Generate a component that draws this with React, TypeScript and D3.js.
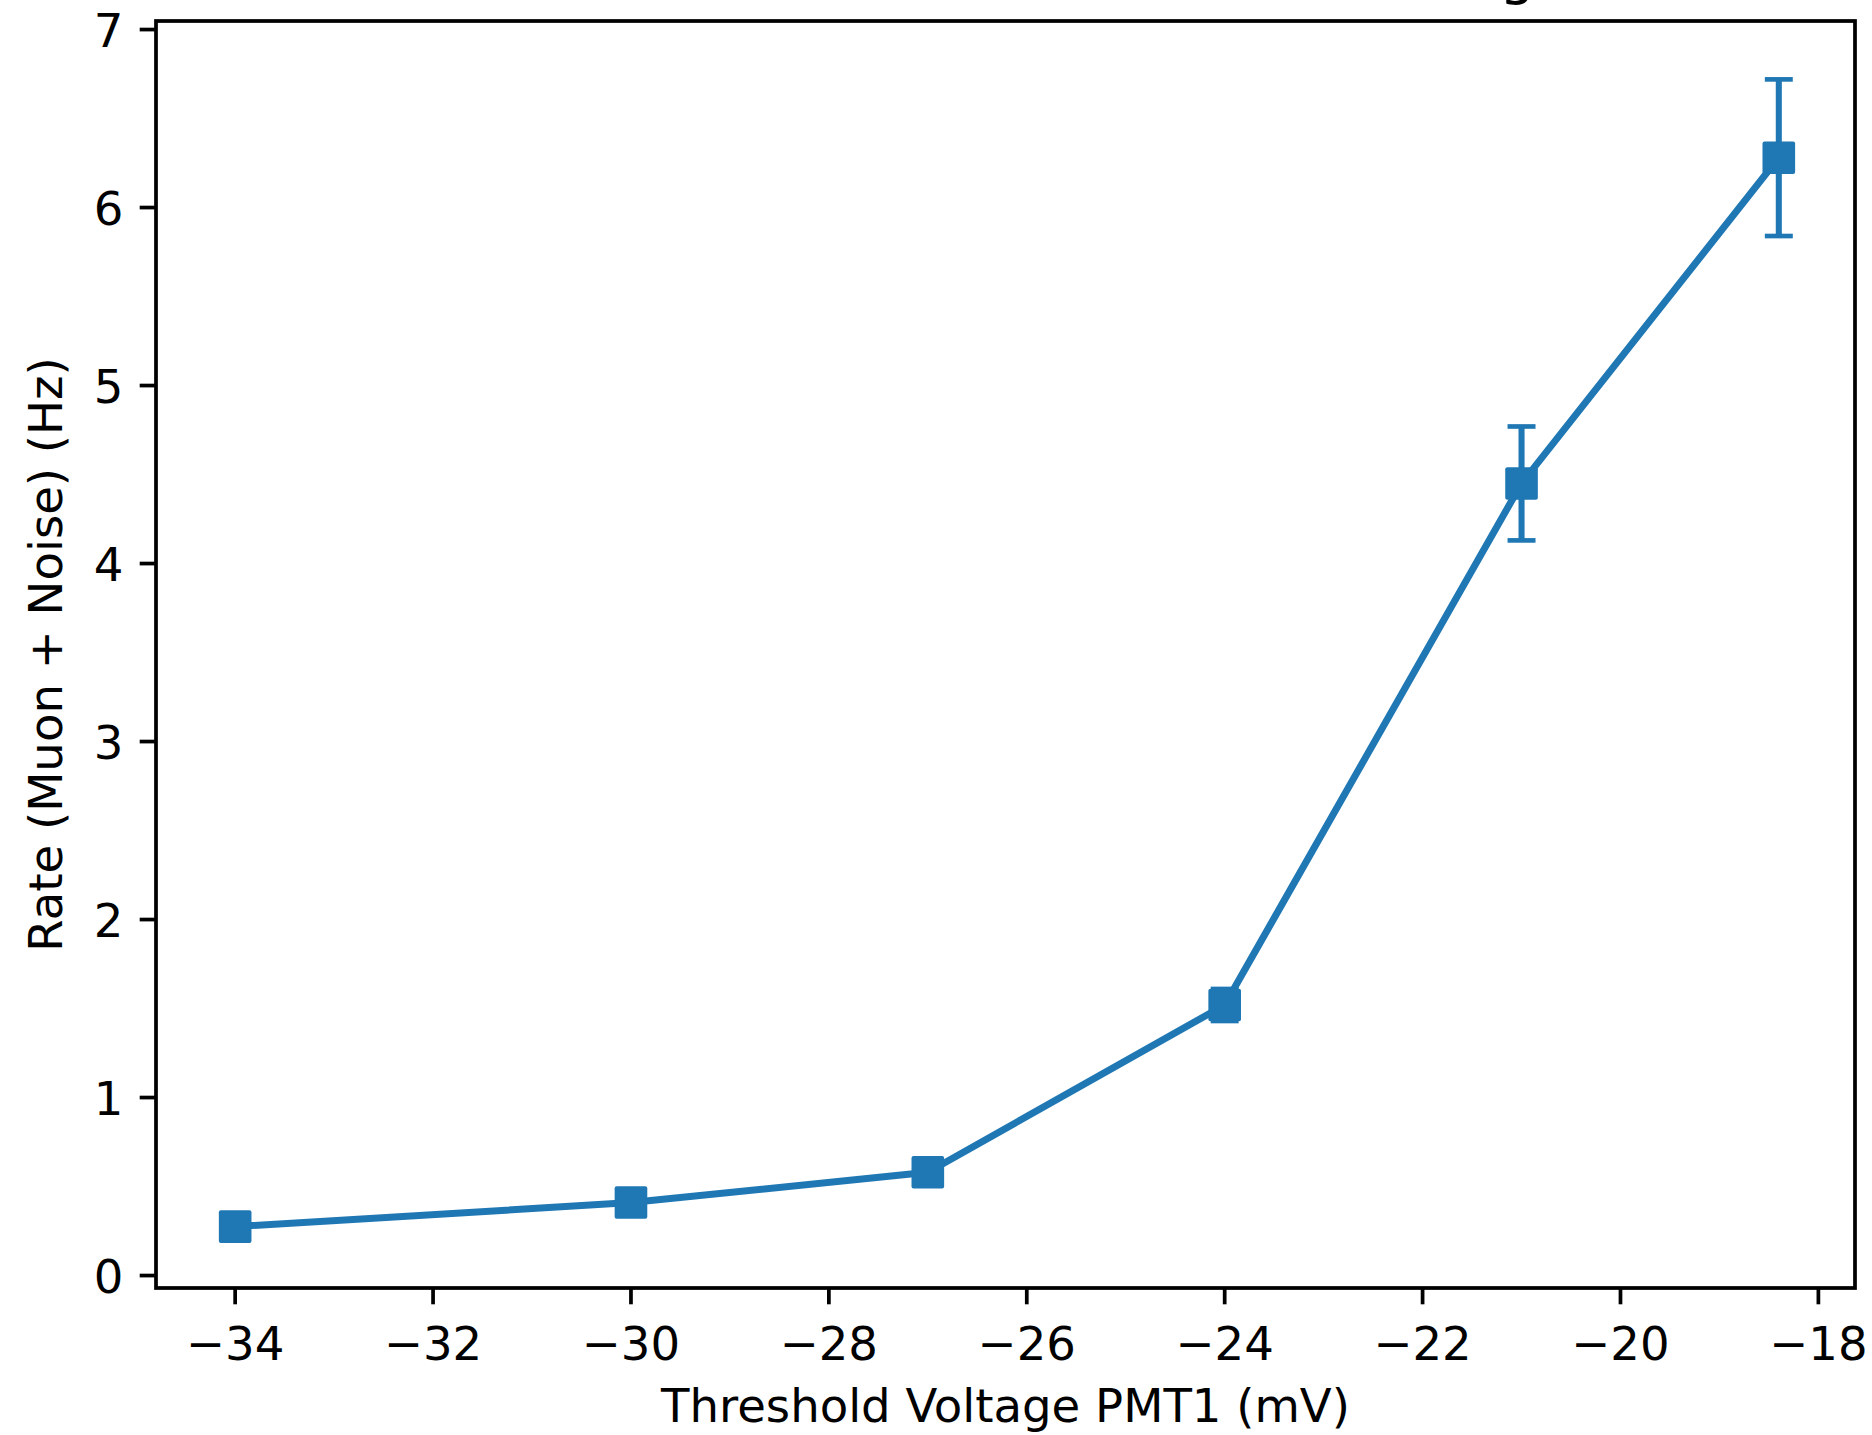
import React from "react";
import * as d3 from "d3";

// Threshold scan of PMT1: measured coincidence rate with statistical errors
const voltage = [-34, -30, -27, -24, -21, -18.4];
const rate = [0.275, 0.41, 0.58, 1.52, 4.45, 6.28];
const rateErr = [0.02, 0.03, 0.04, 0.09, 0.32, 0.44];

const xTicks = [-34, -32, -30, -28, -26, -24, -22, -20, -18];
const yTicks = [0, 1, 2, 3, 4, 5, 6, 7];
const xDomain = [-34.8, -17.63];
const yDomain = [-0.07, 7.048];

const titleText = "Coincidence Rate vs Threshold Voltage";
const xLabel = "Threshold Voltage PMT1 (mV)";
const yLabel = "Rate (Muon + Noise) (Hz)";

const W = 1872;
const H = 1435;
const PT = 4.66; // pixels per point
const BLUE = "#1f77b4";
const FONT = "DejaVu Sans, Liberation Sans, sans-serif";

export default function App() {
  const left = 156;
  const right = 1855;
  const top = 21;
  const bottom = 1288;

  const x = d3.scaleLinear().domain(xDomain).range([left, right]);
  const y = d3.scaleLinear().domain(yDomain).range([bottom, top]);

  const pts = voltage.map((v, i) => ({ v, r: rate[i], e: rateErr[i] }));
  const line = d3
    .line<{ v: number; r: number }>()
    .x((d) => x(d.v))
    .y((d) => y(d.r));

  const tickLen = 3.5 * PT;
  const tickW = 0.8 * PT;
  const fontSize = 10 * PT;
  const capHalf = 3 * PT;
  const marker = 6 * PT + 1 * PT;

  return (
    <svg
      width={W}
      height={H}
      viewBox={`0 0 ${W} ${H}`}
      style={{ position: "absolute", left: 0, top: 0, display: "block", background: "#fff" }}
      fontFamily={FONT}
    >
      <rect x={0} y={0} width={W} height={H} fill="#fff" />

      {/* title, sitting just above the top edge */}
      <text
        x={(left + right) / 2 + 20}
        y={-7}
        textAnchor="middle"
        fontSize={12 * PT}
        fill="#000"
      >
        {titleText}
      </text>

      {/* error bars */}
      <g stroke={BLUE} fill="none">
        {pts.map((d, i) => (
          <g key={i}>
            <line
              x1={x(d.v)}
              x2={x(d.v)}
              y1={y(d.r - d.e)}
              y2={y(d.r + d.e)}
              strokeWidth={1.3 * PT}
            />
            <line
              x1={x(d.v) - capHalf}
              x2={x(d.v) + capHalf}
              y1={y(d.r - d.e)}
              y2={y(d.r - d.e)}
              strokeWidth={1 * PT}
            />
            <line
              x1={x(d.v) - capHalf}
              x2={x(d.v) + capHalf}
              y1={y(d.r + d.e)}
              y2={y(d.r + d.e)}
              strokeWidth={1 * PT}
            />
          </g>
        ))}
      </g>

      {/* data line */}
      <path
        d={line(pts) || ""}
        fill="none"
        stroke={BLUE}
        strokeWidth={1.5 * PT}
        strokeLinejoin="round"
        strokeLinecap="butt"
      />

      {/* square markers */}
      <g fill={BLUE}>
        {pts.map((d, i) => (
          <rect
            key={i}
            x={x(d.v) - marker / 2}
            y={y(d.r) - marker / 2}
            width={marker}
            height={marker}
            rx={2}
          />
        ))}
      </g>

      {/* spines */}
      <rect
        x={left}
        y={top}
        width={right - left}
        height={bottom - top}
        fill="none"
        stroke="#000"
        strokeWidth={tickW}
      />

      {/* x axis ticks */}
      <g>
        {xTicks.map((t) => (
          <g key={t}>
            <line
              x1={x(t)}
              x2={x(t)}
              y1={bottom}
              y2={bottom + tickLen}
              stroke="#000"
              strokeWidth={tickW}
            />
            <text
              x={x(t)}
              y={bottom + 72}
              textAnchor="middle"
              fontSize={fontSize}
              fill="#000"
            >
              {t < 0 ? "\u2212" + Math.abs(t) : String(t)}
            </text>
          </g>
        ))}
      </g>

      {/* y axis ticks */}
      <g>
        {yTicks.map((t) => (
          <g key={t}>
            <line
              x1={left - tickLen}
              x2={left}
              y1={y(t)}
              y2={y(t)}
              stroke="#000"
              strokeWidth={tickW}
            />
            <text
              x={left - tickLen - 3.5 * PT}
              y={y(t) + 17}
              textAnchor="end"
              fontSize={fontSize}
              fill="#000"
            >
              {String(t)}
            </text>
          </g>
        ))}
      </g>

      {/* axis labels */}
      <text
        x={(left + right) / 2}
        y={1422}
        textAnchor="middle"
        fontSize={fontSize}
        fill="#000"
      >
        {xLabel}
      </text>
      <text
        transform={`translate(62, ${(top + bottom) / 2}) rotate(-90)`}
        textAnchor="middle"
        fontSize={fontSize}
        fill="#000"
      >
        {yLabel}
      </text>
    </svg>
  );
}
